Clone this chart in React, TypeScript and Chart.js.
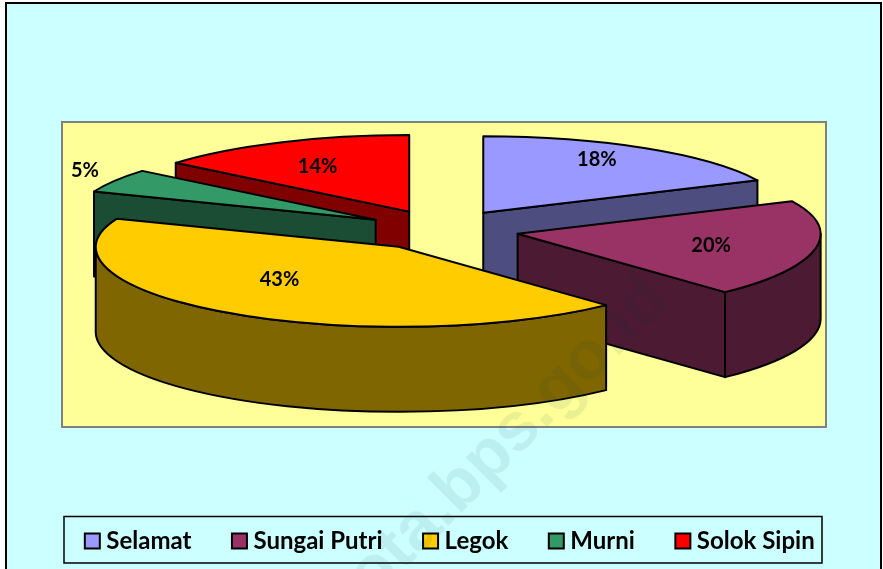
import React, { useEffect, useRef } from "react";
import { Chart, registerables } from "chart.js";

Chart.register(...registerables);

const categories = ["Selamat", "Sungai Putri", "Legok", "Murni", "Solok Sipin"];
const values = [18, 20, 43, 5, 14];
const faceColors = ["#9999ff", "#993366", "#ffcc00", "#339966", "#ff0000"];
const wallColors = ["#4d4d80", "#4d1a33", "#806600", "#1a4d33", "#800000"];
const labelRadiusX = [0.7, 0.65, 0.7, 1.115, 0.71];
const labelRadiusY = [0.81, 0.67, 0.47, 1.25, 0.65];

const FONT = "Lato, Carlito, sans-serif";
const pieSquash = { rx: 303, ryFront: 80, ryBack: 76.5, depth: 85, explode: 77, shiftX: 0.5, shiftY: -11.5 };

const pie3d = {
  id: "pie3d",
  beforeDraw(chart: any) {
    const c = chart.ctx;
    c.save();
    c.fillStyle = "#ccffff";
    c.fillRect(6, 3, 875, 570);
    c.strokeStyle = "#000";
    c.lineWidth = 2;
    c.strokeRect(6, 3, 875, 570);
    c.fillStyle = "#ffff99";
    c.fillRect(62, 122, 764, 305);
    c.strokeStyle = "#808080";
    c.strokeRect(62, 122, 764, 305);
    c.strokeStyle = "#000";
    c.lineWidth = 1.5;
    c.strokeRect(64, 516.5, 758, 46.5);
    c.restore();
  },
  afterLayout(chart: any) {
    chart.legend.left += 11;
    chart.legend.right += 11;
  },
  beforeDatasetDraw(chart: any, args: any) {
    const c = chart.ctx;
    const { rx, ryFront, ryBack, depth, explode, shiftX, shiftY } = pieSquash;
    const slices = args.meta.data.map((arc: any, i: number) => {
      const p = arc.getProps(["x", "y", "startAngle", "endAngle"], true);
      const mid = (p.startAngle + p.endAngle) / 2;
      return {
        i,
        a0: p.startAngle,
        a1: p.endAngle,
        mid,
        x: p.x + shiftX + explode * Math.cos(mid),
        y: p.y + shiftY + (explode * ryFront * Math.sin(mid)) / rx,
      };
    });
    const ryAt = (a: number) => (Math.sin(a) < 0 ? ryBack : ryFront);
    // outer edge of the ellipse, flatter behind the centre than in front
    const rim = (s: any, from: number, to: number) => {
      const marks = [from, 0, Math.PI, to]
        .filter((m) => m >= from && m <= to)
        .sort((a, b) => a - b);
      for (let k = 0; k < marks.length - 1; k++) {
        const m = (marks[k] + marks[k + 1]) / 2;
        if (marks[k + 1] > marks[k]) {
          c.ellipse(s.x, s.y, rx, ryAt(m), 0, marks[k], marks[k + 1]);
        }
      }
    };
    const drawOrder = [...slices].sort((a: any, b: any) => a.y - b.y);
    c.save();
    c.lineJoin = "round";
    c.strokeStyle = "#000";
    c.lineWidth = 2;
    const paint = (color: string) => {
      c.fillStyle = color;
      c.fill();
      c.stroke();
    };
    for (const s of drawOrder) {
      const radial = (a: number) => {
        const ex = s.x + rx * Math.cos(a);
        const ey = s.y + ryAt(a) * Math.sin(a);
        c.beginPath();
        c.moveTo(s.x, s.y);
        c.lineTo(ex, ey);
        c.lineTo(ex, ey + depth);
        c.lineTo(s.x, s.y + depth);
        c.closePath();
        paint(wallColors[s.i]);
      };
      // side walls that face the viewer
      if (Math.cos(s.a0) < -1e-6) radial(s.a0);
      if (Math.cos(s.a1) > 1e-6) radial(s.a1);
      // outer wall: only the front half of the ellipse
      const lo = Math.max(s.a0, 0);
      const hi = Math.min(s.a1, Math.PI);
      if (hi > lo) {
        c.beginPath();
        c.ellipse(s.x, s.y, rx, ryFront, 0, lo, hi);
        c.ellipse(s.x, s.y + depth, rx, ryFront, 0, hi, lo, true);
        c.closePath();
        paint(wallColors[s.i]);
      }
      // top face
      c.beginPath();
      c.moveTo(s.x, s.y);
      rim(s, s.a0, s.a1);
      c.closePath();
      paint(faceColors[s.i]);
    }
    c.fillStyle = "#000";
    c.font = `bold 20px ${FONT}`;
    c.textAlign = "center";
    c.textBaseline = "middle";
    for (const s of slices) {
      const lx = s.x + rx * labelRadiusX[s.i] * Math.cos(s.mid);
      const ly = s.y + ryFront * labelRadiusY[s.i] * Math.sin(s.mid);
      c.fillText(`${values[s.i]}%`, lx, ly + 1.5);
    }
    c.restore();
    return false;
  },
  afterDraw(chart: any) {
    const c = chart.ctx;
    c.save();
    c.translate(672, 302);
    c.rotate(-Math.PI / 4);
    c.font = `bold 68px "Liberation Sans", sans-serif`;
    c.textAlign = "right";
    c.textBaseline = "alphabetic";
    c.fillStyle = "rgba(0, 60, 60, 0.08)";
    c.fillText("jambikota.bps.go.id", 0, 0);
    c.restore();
  },
};

export default function App() {
  const ref = useRef<HTMLCanvasElement>(null);
  useEffect(() => {
    const chart = new Chart(ref.current as HTMLCanvasElement, {
      type: "pie",
      data: {
        labels: categories,
        datasets: [
          {
            data: values,
            backgroundColor: faceColors,
            borderColor: "#000",
            borderWidth: 2,
          },
        ],
      },
      options: {
        responsive: false,
        animation: false,
        layout: { padding: { top: -79, bottom: 6, left: 0, right: 0 } },
        plugins: {
          tooltip: { enabled: false },
          legend: {
            position: "bottom",
            labels: {
              usePointStyle: true,
              pointStyle: "rect",
              boxWidth: 4,
              boxHeight: 15,
              padding: 46,
              color: "#000",
              font: { family: FONT, weight: "bold", size: 24 },
            },
          },
        },
      },
      plugins: [pie3d],
    } as any);
    return () => chart.destroy();
  }, []);
  return (
    <canvas
      ref={ref}
      width={883}
      height={569}
      style={{ position: "absolute", left: 0, top: 0, display: "block" }}
    />
  );
}
